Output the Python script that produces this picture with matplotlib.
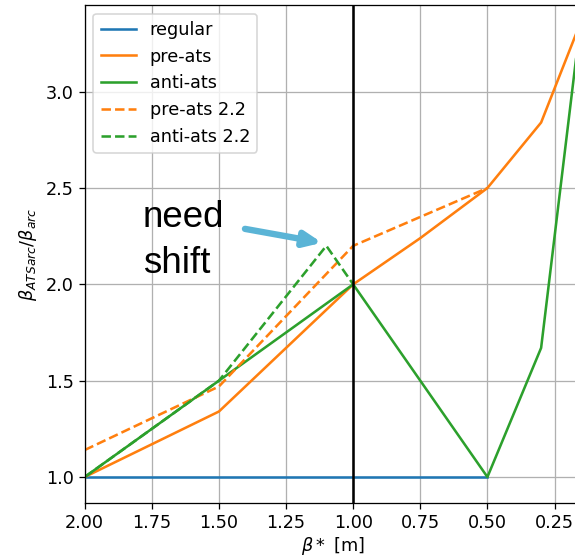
import matplotlib
matplotlib.use('Agg')
import matplotlib.pyplot as plt

# beta* values [m]
beta = [2.0, 1.5, 1.0, 0.75, 0.5, 0.3, 0.15]

regular_x = [2.0, 1.5, 1.0, 0.5]
regular = [1.0, 1.0, 1.0, 1.0]

pre_ats = [1.0, 1.34, 2.0, 2.24, 2.5, 2.84, 3.37]
anti_x = [2.0, 1.5, 1.0, 0.5, 0.3, 0.15]
anti_ats = [1.0, 1.5, 2.0, 1.0, 1.67, 3.4]

pre22_x = [2.0, 1.5, 1.0, 0.5]
pre_ats_22 = [1.14, 1.47, 2.2, 2.5]
anti22_x = [2.0, 1.5, 1.1, 1.0]
anti_ats_22 = [1.0, 1.5, 2.2, 2.0]

plt.rcParams['font.size'] = 11
plt.rcParams['lines.linewidth'] = 1.6

dpi = 115
fig = plt.figure(figsize=(575 / dpi, 556 / dpi), dpi=dpi)
ax = fig.add_axes([0.1473, 0.0953, 0.8638, 0.8957])

ax.plot(regular_x, regular, color='C0', label='regular')
ax.plot(beta, pre_ats, color='C1', label='pre-ats')
ax.plot(anti_x, anti_ats, color='C2', label='anti-ats')
ax.plot(pre22_x, pre_ats_22, color='C1', ls='--', label='pre-ats 2.2')
ax.plot(anti22_x, anti_ats_22, color='C2', ls='--', label='anti-ats 2.2')
ax.axvline(1.0, color='k')

ax.set_xlim(2.0, 0.15)
ax.set_ylim(0.865, 3.45)
ax.set_xticks([2.0, 1.75, 1.5, 1.25, 1.0, 0.75, 0.5, 0.25])
ax.set_yticks([1.0, 1.5, 2.0, 2.5, 3.0])
ax.grid()
ax.set_xlabel(r'$\beta*$ [m]', labelpad=2)
ax.set_ylabel(r'$\beta_{ATSarc}/\beta_{arc}$')
ax.legend(loc='upper left')

# annotation
ax.text(1.784, 2.30, 'need', fontsize=23, family='Liberation Sans', va='baseline')
ax.text(1.784, 2.06, 'shift', fontsize=23, family='Liberation Sans', va='baseline')
ax.annotate('', xy=(1.116, 2.216), xytext=(1.403, 2.288),
            arrowprops=dict(arrowstyle='-|>,head_length=0.8,head_width=0.35',
                            lw=4, color='#5ab4d6', shrinkA=0, shrinkB=0))

fig.savefig('out.png', dpi=dpi)
